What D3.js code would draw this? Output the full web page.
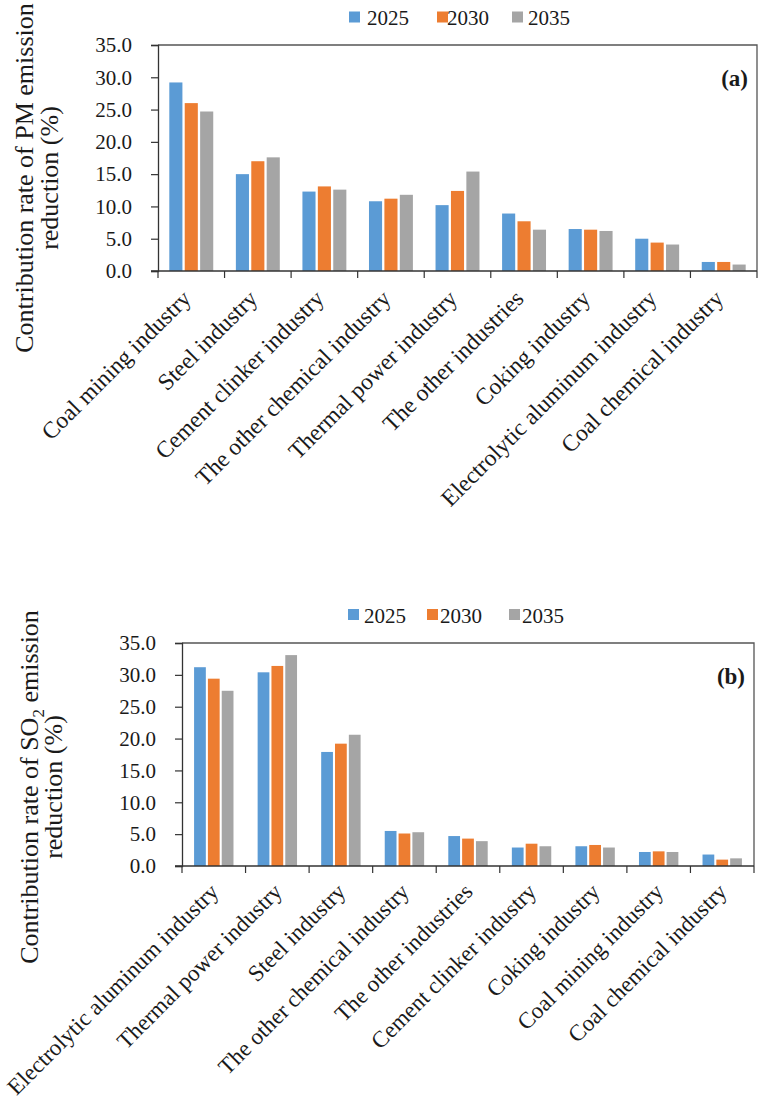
<!DOCTYPE html>
<html>
<head>
<meta charset="utf-8">
<script src="https://cdn.jsdelivr.net/npm/d3@7"></script>
<style>
  html, body { margin: 0; padding: 0; background: #fff; }
  svg { display: block; }
  text { font-family: "Liberation Serif", "Times New Roman", serif; fill: #1a1a1a; }
</style>
</head>
<body>
<svg id="chart" width="761" height="1104"></svg>
<script>
// ---------- data ----------
const years = ["2025", "2030", "2035"];
const yearColors = ["#5B9BD5", "#ED7D31", "#A5A5A5"];
const yTicks = [0, 5, 10, 15, 20, 25, 30, 35];

const pmCategories = ["Coal mining industry", "Steel industry", "Cement clinker industry",
  "The other chemical industry", "Thermal power industry", "The other industries",
  "Coking industry", "Electrolytic aluminum industry", "Coal chemical industry"];
const pm2025 = [29.2, 15.0, 12.3, 10.8, 10.2, 8.9, 6.5, 5.0, 1.4];
const pm2030 = [26.0, 17.0, 13.1, 11.2, 12.4, 7.7, 6.4, 4.4, 1.4];
const pm2035 = [24.7, 17.6, 12.6, 11.8, 15.4, 6.4, 6.2, 4.1, 1.0];

const so2Categories = ["Electrolytic aluminum industry", "Thermal power industry", "Steel industry",
  "The other chemical industry", "The other industries", "Cement clinker industry",
  "Coking industry", "Coal mining industry", "Coal chemical industry"];
const so22025 = [31.2, 30.4, 17.9, 5.5, 4.7, 2.9, 3.1, 2.2, 1.8];
const so22030 = [29.4, 31.4, 19.2, 5.1, 4.3, 3.5, 3.3, 2.3, 1.0];
const so22035 = [27.5, 33.1, 20.6, 5.3, 3.9, 3.1, 2.9, 2.2, 1.2];

// ---------- drawing ----------
const svg = d3.select("#chart");

function drawPanel(cfg) {
  const g = svg.append("g");
  const x0 = d3.scaleBand().domain(cfg.categories).range([cfg.left, cfg.right]).padding(0);
  const y = d3.scaleLinear().domain([0, 35]).range([cfg.bottom, cfg.top]);
  const groupW = x0.bandwidth() * cfg.groupFrac;
  const x1 = d3.scaleBand().domain(years).range([0, groupW]).paddingInner(0.15).paddingOuter(0);
  const rows = cfg.categories.map((c, i) => ({ cat: c, vals: cfg.series.map(s => s[i]) }));

  // bars
  const grp = g.selectAll("g.cat").data(rows).join("g")
    .attr("transform", d => `translate(${x0(d.cat) + (x0.bandwidth() - groupW) / 2},0)`);
  grp.selectAll("rect").data(d => d.vals.map((v, k) => ({ v, k })))
    .join("rect")
    .attr("x", d => x1(years[d.k]))
    .attr("width", x1.bandwidth())
    .attr("y", d => y(d.v))
    .attr("height", d => y(0) - y(d.v))
    .attr("fill", d => yearColors[d.k]);

  // plot border (top & right)
  g.append("path")
    .attr("d", `M${cfg.left},${cfg.top}H${cfg.right}V${cfg.bottom}`)
    .attr("fill", "none").attr("stroke", "#555").attr("stroke-width", 1.3);

  // y axis
  const yAxis = d3.axisLeft(y).tickValues(yTicks).tickSize(7).tickPadding(19)
    .tickFormat(d3.format(".1f"));
  const ya = g.append("g").attr("transform", `translate(${cfg.left},0)`).call(yAxis);
  ya.attr("font-family", null);
  ya.select(".domain").attr("stroke", "#333").attr("stroke-width", 1.3);
  ya.selectAll(".tick line").attr("stroke", "#333").attr("stroke-width", 1.2);
  ya.selectAll(".tick text").attr("font-size", 21).attr("font-family", "Liberation Serif")
    .attr("fill", "#1a1a1a");

  // x axis: ticks on band boundaries
  const xa = g.append("g").attr("transform", `translate(0,${cfg.bottom})`);
  xa.append("line").attr("x1", cfg.left - 7).attr("x2", cfg.right)
    .attr("stroke", "#333").attr("stroke-width", 1.3);
  const bounds = cfg.categories.map(c => x0(c)).concat([cfg.right]);
  xa.selectAll("line.tk").data(bounds).join("line").attr("class", "tk")
    .attr("x1", d => d).attr("x2", d => d).attr("y1", 0).attr("y2", 7)
    .attr("stroke", "#333").attr("stroke-width", 1.2);
  xa.selectAll("text.cl").data(cfg.categories).join("text").attr("class", "cl")
    .attr("transform", d => `translate(${x0(d) + x0.bandwidth() / 2 + cfg.labDx},${cfg.labDy}) rotate(-45)`)
    .attr("text-anchor", "end")
    .attr("font-size", cfg.labFont)
    .text(d => d);

  // legend
  years.forEach((yr, k) => {
    g.append("rect").attr("x", cfg.legSq[k]).attr("y", cfg.legY - 6)
      .attr("width", 11).attr("height", 11).attr("fill", yearColors[k]);
    g.append("text").attr("x", cfg.legTx[k]).attr("y", cfg.legY + 7.5)
      .attr("font-size", 21).text(yr);
  });

  // panel tag
  g.append("text").attr("x", cfg.right - 9).attr("y", cfg.top + 41)
    .attr("text-anchor", "end").attr("font-size", 23).attr("font-weight", "bold")
    .text(cfg.tag);

  // y title (two lines)
  const t1 = g.append("text")
    .attr("transform", `translate(${cfg.titleX[0]},${cfg.titleCY}) rotate(-90)`)
    .attr("text-anchor", "middle").attr("font-size", 26);
  cfg.title1(t1);
  g.append("text")
    .attr("transform", `translate(${cfg.titleX[1]},${cfg.titleCY}) rotate(-90)`)
    .attr("text-anchor", "middle").attr("font-size", 26)
    .text("reduction (%)");
}

drawPanel({
  categories: pmCategories, series: [pm2025, pm2030, pm2035],
  left: 158, right: 757, top: 45, bottom: 271, groupFrac: 0.66,
  labDx: 1, labDy: 29, labFont: 23.5,
  legY: 17.5, legSq: [349, 437, 512], legTx: [367, 447, 528],
  tag: "(a)", titleX: [33, 58], titleCY: 178,
  title1: t => t.text("Contribution rate of PM emission")
});

drawPanel({
  categories: so2Categories, series: [so22025, so22030, so22035],
  left: 182, right: 754, top: 643, bottom: 866, groupFrac: 0.62,
  labDx: 6, labDy: 27, labFont: 23,
  legY: 615, legSq: [348, 427, 509], legTx: [364, 440, 522],
  tag: "(b)", titleX: [38, 62], titleCY: 787,
  title1: t => {
    t.append("tspan").text("Contribution rate of SO");
    t.append("tspan").attr("font-size", 17).attr("dy", 6).text("2");
    t.append("tspan").attr("dy", -6).text(" emission");
  }
});
</script>
</body>
</html>
